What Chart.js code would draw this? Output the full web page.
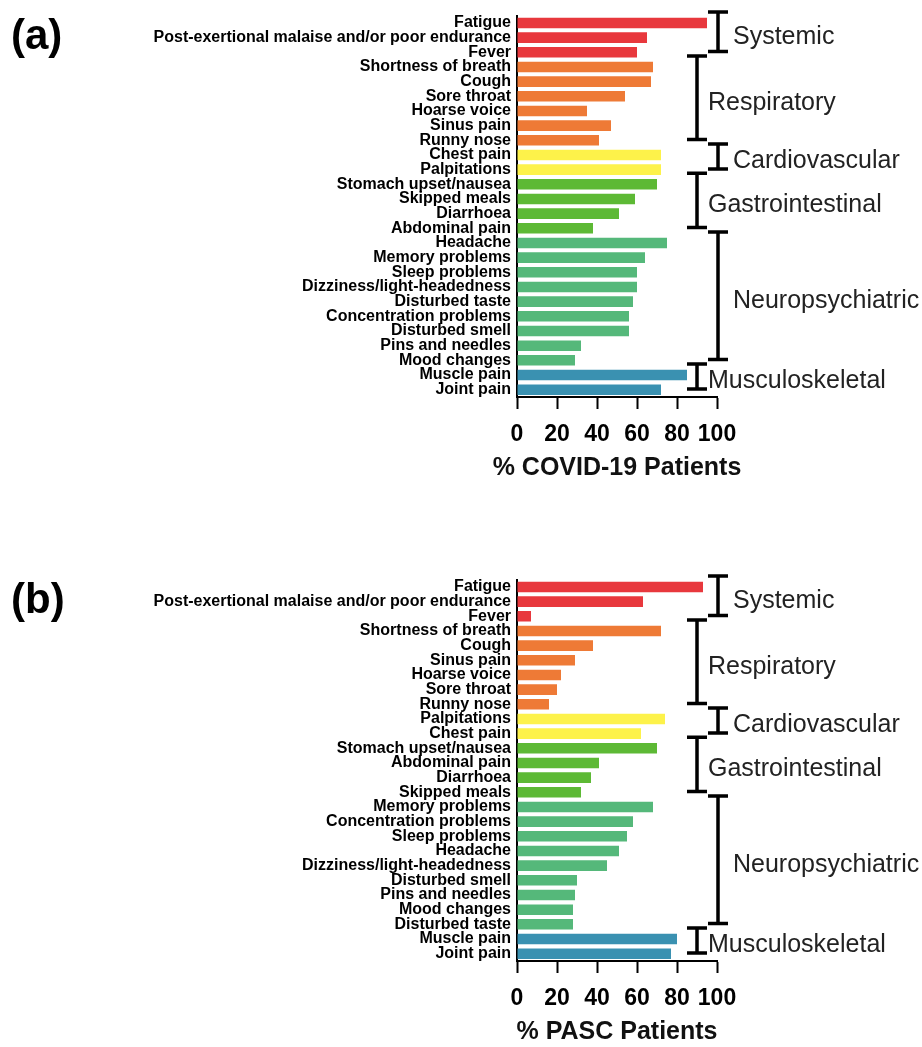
<!DOCTYPE html>
<html>
<head>
<meta charset="utf-8">
<script src="https://cdn.jsdelivr.net/npm/chart.js@4"></script>
<style>
  html, body { margin: 0; padding: 0; background: #fff; overflow: hidden; }
  body { width: 922px; height: 1047px; position: relative; }
  .panel { position: absolute; left: 0; }
</style>
</head>
<body>
<div class="panel" style="top:0"><canvas id="chartA" width="922" height="483"></canvas></div>
<div class="panel" style="top:564px"><canvas id="chartB" width="922" height="483"></canvas></div>
<script>
// symptom groups (same order in both panels)
const groupNames = ['Systemic', 'Respiratory', 'Cardiovascular', 'Gastrointestinal', 'Neuropsychiatric', 'Musculoskeletal'];
const groupSizes = [3, 6, 2, 4, 9, 2];

// (a) COVID-19 patients
const labelsA = ['Fatigue', 'Post-exertional malaise and/or poor endurance', 'Fever',
  'Shortness of breath', 'Cough', 'Sore throat', 'Hoarse voice', 'Sinus pain', 'Runny nose',
  'Chest pain', 'Palpitations',
  'Stomach upset/nausea', 'Skipped meals', 'Diarrhoea', 'Abdominal pain',
  'Headache', 'Memory problems', 'Sleep problems', 'Dizziness/light-headedness', 'Disturbed taste',
  'Concentration problems', 'Disturbed smell', 'Pins and needles', 'Mood changes',
  'Muscle pain', 'Joint pain'];
const valuesA = [95, 65, 60, 68, 67, 54, 35, 47, 41, 72, 72, 70, 59, 51, 38, 75, 64, 60, 60, 58, 56, 56, 32, 29, 85, 72];

// (b) PASC patients
const labelsB = ['Fatigue', 'Post-exertional malaise and/or poor endurance', 'Fever',
  'Shortness of breath', 'Cough', 'Sinus pain', 'Hoarse voice', 'Sore throat', 'Runny nose',
  'Palpitations', 'Chest pain',
  'Stomach upset/nausea', 'Abdominal pain', 'Diarrhoea', 'Skipped meals',
  'Memory problems', 'Concentration problems', 'Sleep problems', 'Headache', 'Dizziness/light-headedness',
  'Disturbed smell', 'Pins and needles', 'Mood changes', 'Disturbed taste',
  'Muscle pain', 'Joint pain'];
const valuesB = [93, 63, 7, 72, 38, 29, 22, 20, 16, 74, 62, 70, 41, 37, 32, 68, 58, 55, 51, 45, 30, 29, 28, 28, 80, 77];

const xTicks = [0, 20, 40, 60, 80, 100];

const groupColors = ['#E8383D', '#EE7A36', '#FDF24A', '#5DB935', '#55B87A', '#3A91B1'];
const FONT = '"Liberation Sans", Arial, Helvetica, sans-serif';

function barColors() {
  const out = [];
  groupSizes.forEach((n, g) => { for (let i = 0; i < n; i++) out.push(groupColors[g]); });
  return out;
}

// brackets + group names + axis title + panel letter
const groupPlugin = {
  id: 'groups',
  afterDraw(chart, args, opts) {
    const ctx = chart.ctx;
    const y = chart.scales.y;
    const area = chart.chartArea;
    const step = y.getPixelForValue(1) - y.getPixelForValue(0);
    ctx.save();
    ctx.strokeStyle = '#000';
    ctx.lineWidth = 3.5;
    let start = 0;
    groupSizes.forEach((n, g) => {
      const end = start + n - 1;
      const top = y.getPixelForValue(start) - 0.75 * step;
      const bot = y.getPixelForValue(end) - 0.05 * step;
      const bx = g % 2 === 0 ? area.right + 1 : area.right - 20;
      ctx.beginPath();
      ctx.moveTo(bx, top); ctx.lineTo(bx, bot);
      ctx.moveTo(bx - 10, top); ctx.lineTo(bx + 10, top);
      ctx.moveTo(bx - 10, bot); ctx.lineTo(bx + 10, bot);
      ctx.stroke();
      ctx.fillStyle = '#222';
      ctx.font = '25px ' + FONT;
      ctx.textAlign = 'left';
      ctx.textBaseline = 'middle';
      ctx.fillText(groupNames[g], bx + (g % 2 === 0 ? 15 : 11), (top + bot) / 2 + 5);
      start += n;
    });
    // axis title (drawn here so it is not squeezed to the axis width)
    ctx.fillStyle = '#111';
    ctx.font = 'bold 25px ' + FONT;
    ctx.textAlign = 'center';
    ctx.fillText(opts.title, (area.left + area.right) / 2, area.bottom + 71);
    ctx.fillStyle = '#000';
    ctx.font = 'bold 42px ' + FONT;
    ctx.textAlign = 'left';
    ctx.fillText(opts.letter, 11, 37);
    ctx.restore();
  }
};

function makeChart(id, labels, values, title, letter) {
  return new Chart(document.getElementById(id), {
    type: 'bar',
    data: {
      labels: labels,
      datasets: [{
        data: values,
        backgroundColor: barColors(),
        borderWidth: 0,
        categoryPercentage: 1,
        barPercentage: 0.72
      }]
    },
    plugins: [groupPlugin],
    options: {
      indexAxis: 'y',
      responsive: false,
      animation: false,
      layout: { padding: { top: 11, right: 205, left: 0, bottom: 0 } },
      plugins: {
        legend: { display: false },
        tooltip: { enabled: false },
        groups: { letter: letter, title: title }
      },
      scales: {
        y: {
          grid: { display: false, drawTicks: false },
          border: { color: '#000', width: 2 },
          ticks: {
            autoSkip: false,
            padding: 6,
            color: '#000',
            font: { family: FONT, size: 16, weight: 'bold' }
          },
          afterFit: s => { s.width = 517; }
        },
        x: {
          min: 0,
          max: 100,
          afterBuildTicks: s => { s.ticks = xTicks.map(v => ({ value: v })); },
          grid: { drawOnChartArea: false, drawTicks: true, tickLength: 12, tickWidth: 2, tickColor: '#000' },
          border: { color: '#000', width: 2 },
          ticks: {
            autoSkip: false,
            padding: 12,
            color: '#000',
            maxRotation: 0,
            font: { family: FONT, size: 23, weight: 'bold' }
          },
          afterFit: s => { s.height = 86; }
        }
      }
    }
  });
}

makeChart('chartA', labelsA, valuesA, '% COVID-19 Patients', '(a)');
makeChart('chartB', labelsB, valuesB, '% PASC Patients', '(b)');
</script>
</body>
</html>
